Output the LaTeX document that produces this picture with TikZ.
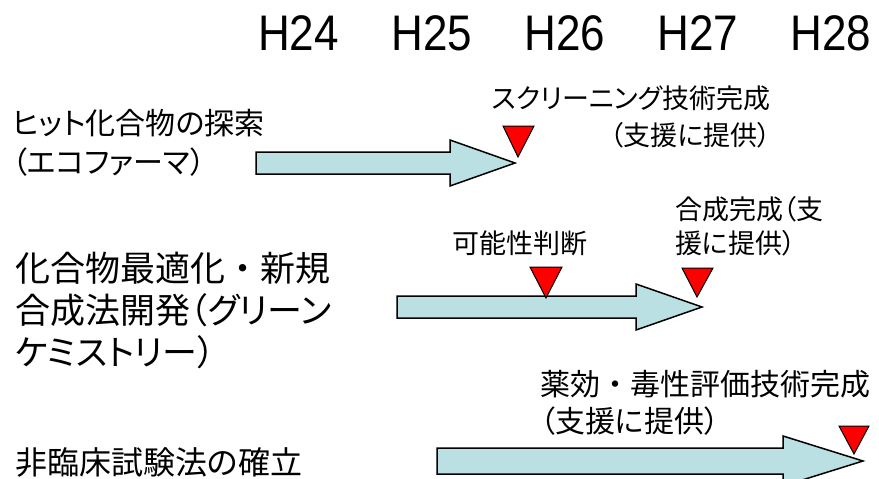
\documentclass[tikz,border=0pt]{standalone}
\usepackage{fontspec}
\setmainfont{Liberation Sans}
\newfontfamily\jp[RawFeature=+palt]{Noto Sans CJK JP}
\newfontfamily\jpfw{Noto Sans CJK JP}
\newcommand{\nkdot}{{\jpfw ・}}
\usetikzlibrary{positioning}
\definecolor{shaftblue}{RGB}{187,224,227}

\begin{document}
\begin{tikzpicture}[x=1pt,y=-1pt,inner sep=0pt,
                    year/.style={anchor=base west,font=\fontsize{50}{50}\selectfont},
                    task/.style={anchor=west,align=left},
                    note/.style={font=\jp\fontsize{27}{37}\selectfont},
                    blockarrow/.style={draw=black,fill=shaftblue,line width=1.5pt,line join=miter},
                    milestone/.style={draw=black,fill=red,line width=1pt}]

	\useasboundingbox (0,0) rectangle (879,479);

	% years
	\node[year] (h24) at (258,50)              	{\scalebox{0.88}[1]{H24}};
	\node[year] (h25) [base right=52pt of h24]  	{\scalebox{0.88}[1]{H25}};
	\node[year] (h26) [base right=52pt of h25]  	{\scalebox{0.88}[1]{H26}};
	\node[year] (h27) [base right=52pt of h26]  	{\scalebox{0.88}[1]{H27}};
	\node[year] (h28) [base right=52pt of h27]  	{\scalebox{0.88}[1]{H28}};

	% tasks
	\node[task,font=\jp\fontsize{30}{39}\selectfont] (hit) at (12,143)
		{ヒット化合物の探索\\（エコファーマ）};
	\node[task,font=\jp\fontsize{35}{42}\selectfont] (opt) at (15,310)
		{化合物最適化\nkdot 新規\\合成法開発（グリーン\\ケミストリー）};
	\node[task,font=\jp\fontsize{32}{40}\selectfont] (tox) at (15,462)
		{非臨床試験法の確立};

	% arrows
	\draw[blockarrow] (256,152) -- (450,152) -- (450,140) -- (515,163)
		-- (450,186) -- (450,174) -- (256,174) -- cycle;
	\draw[blockarrow] (397,296) -- (636,296) -- (636,284) -- (702,307)
		-- (636,330) -- (636,318) -- (397,318) -- cycle;
	\draw[blockarrow] (437,448) -- (783,448) -- (783,436) -- (863,461)
		-- (783,486) -- (783,474) -- (437,474) -- cycle;

	% milestones
	\draw[milestone] (503,126) -- (534,126) -- (518,157) -- cycle;
	\draw[milestone] (530,267) -- (562,267) -- (546,298) -- cycle;
	\draw[milestone] (682,268) -- (713,268) -- (697,297) -- cycle;
	\draw[milestone] (839,426) -- (869,426) -- (854,454) -- cycle;

	\node[note,anchor=east,align=right] (screen) at (771,117)
		{スクリーニング技術完成\\（支援に提供）};
	\node[note] (judge) at (520,243)              	{可能性判断};
	\node[note,anchor=west,align=left,font=\jp\fontsize{27}{34}\selectfont] (synth) at (675,226)
		{合成完成（支\\援に提供）};
	\node[note,anchor=west,align=left,font=\jp\fontsize{30}{37}\selectfont] (assay) at (540,403)
		{薬効\nkdot 毒性評価技術完成\\（支援に提供）};

\end{tikzpicture}
\end{document}
